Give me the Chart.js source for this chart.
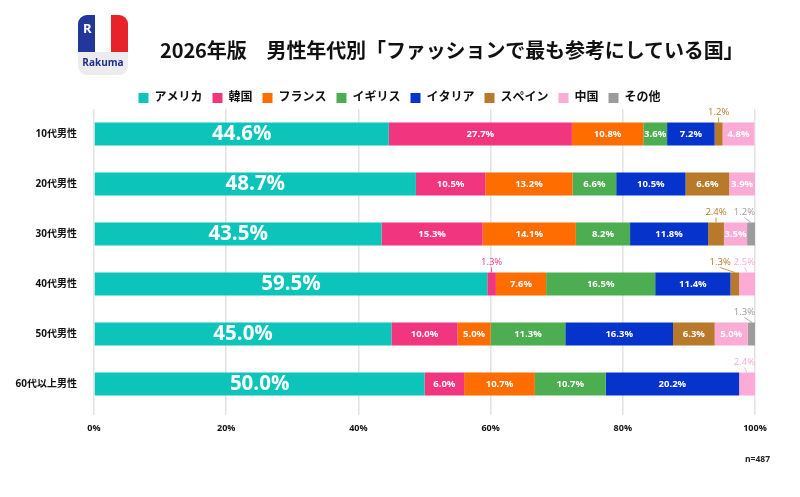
<!DOCTYPE html>
<html>
<head>
<meta charset="utf-8">
<script src="https://cdn.jsdelivr.net/npm/chart.js@4.4.1/dist/chart.umd.min.js"></script>
<style>
  body { margin: 0; background: #fff; font-family: 'Noto Sans CJK JP', sans-serif; }
  #page { position: relative; width: 800px; height: 497px; overflow: hidden; }
  #page canvas { position: absolute; left: 0; top: 0; }
  .logo { position: absolute; left: 78px; top: 15px; width: 50px; height: 60px; border-radius: 9px; overflow: hidden; background: #ececef; }
  .logo .flag { position: absolute; left: 0; top: 0; width: 50px; height: 37px; display: flex; }
  .logo .flag div { flex: 1; }
  .logo .r { position: absolute; left: 5px; top: 4px; color: #fff; font: bold 13px 'Open Sans', sans-serif; }
  .logo .name { position: absolute; left: 0; width: 50px; top: 40px; text-align: center; color: #1d2f8c; font: bold 10px 'Open Sans', sans-serif; }
  .title { position: absolute; left: 160px; top: 35px; font-size: 20px; font-weight: bold; color: #111; white-space: nowrap; letter-spacing: -0.1px; }
  .note { position: absolute; left: 745px; top: 453px; font: bold 8.5px 'Open Sans', sans-serif; color: #222; }
</style>
</head>
<body>
<div id="page">
  <canvas id="chart" width="800" height="497"></canvas>
  <div class="logo">
    <div class="flag"><div style="background:#23379a"></div><div style="background:#fff"></div><div style="background:#e8222b"></div></div>
    <div class="r">R</div>
    <div class="name">Rakuma</div>
  </div>
  <div class="title">2026年版　男性年代別「ファッションで最も参考にしている国」</div>
  <div class="note">n=487</div>
</div>
<script>
// 年代別の回答割合（%）
const ages = ['10代男性', '20代男性', '30代男性', '40代男性', '50代男性', '60代以上男性'];
const countries = ['アメリカ', '韓国', 'フランス', 'イギリス', 'イタリア', 'スペイン', '中国', 'その他'];
const colors = ['#0dc4bb', '#f2357f', '#ff6c00', '#4cae50', '#0533cc', '#b8792b', '#fbabd6', '#9c9c9c'];

const america = [44.6, 48.7, 43.5, 59.5, 45.0, 50.0];
const korea   = [27.7, 10.5, 15.3, 1.3, 10.0, 6.0];
const france  = [10.8, 13.2, 14.1, 7.6, 5.0, 10.7];
const uk      = [3.6, 6.6, 8.2, 16.5, 11.3, 10.7];
const italy   = [7.2, 10.5, 11.8, 11.4, 16.3, 20.2];
const spain   = [1.2, 6.6, 2.4, 1.3, 6.3, 0];
const china   = [4.8, 3.9, 3.5, 2.5, 5.0, 2.4];
const other   = [0, 0, 1.2, 0, 1.3, 0];

const xTicks = [0, 20, 40, 60, 80, 100];

const series = [america, korea, france, uk, italy, spain, china, other];
const FONT = "'Open Sans', 'Noto Sans CJK JP', sans-serif";

// 区間の中にラベル、3%未満は上に外出し
const segLabels = {
  id: 'segLabels',
  afterDatasetsDraw(chart) {
    const ctx = chart.ctx;
    ctx.save();
    ages.forEach((a, i) => {
      let limit = chart.chartArea.right;
      for (let d = series.length - 1; d >= 0; d--) {
        const v = series[d][i];
        if (!v) continue;
        const bar = chart.getDatasetMeta(d).data[i];
        const cx = (bar.x + bar.base) / 2;
        const txt = v.toFixed(1) + '%';
        ctx.textAlign = 'center';
        ctx.textBaseline = 'middle';
        if (v >= 3) {
          ctx.font = d === 0 ? 'bold 20.5px ' + FONT : 'bold 9.5px ' + FONT;
          ctx.fillStyle = '#fff';
          ctx.fillText(txt, cx, bar.y + 0.5);
        } else {
          ctx.font = '9.5px ' + FONT;
          const w = ctx.measureText(txt).width;
          const x = Math.min(cx, limit - w / 2);
          limit = x - w / 2 - 3;
          const top = bar.y - bar.height / 2;
          ctx.fillStyle = colors[d];
          ctx.fillText(txt, x, top - 10);
          ctx.strokeStyle = colors[d];
          ctx.lineWidth = 0.8;
          ctx.beginPath();
          ctx.moveTo(x, top - 5);
          ctx.lineTo(cx, top);
          ctx.stroke();
        }
      }
    });
    ctx.restore();
  }
};

// 凡例をページ中央に寄せる
const legendShift = {
  id: 'legendShift',
  afterLayout(chart) {
    const lg = chart.legend;
    lg.left += 22; lg.right += 22;
    lg.top += 5; lg.bottom += 5;
  }
};

new Chart(document.getElementById('chart'), {
  type: 'bar',
  data: {
    labels: ages,
    datasets: series.map((s, k) => ({
      label: countries[k],
      data: s,
      backgroundColor: colors[k],
      borderWidth: 0,
      categoryPercentage: 1,
      barPercentage: 0.46
    }))
  },
  options: {
    indexAxis: 'y',
    responsive: false,
    animation: false,
    layout: { padding: { top: 77, left: 0, right: 45, bottom: 58 } },
    plugins: {
      legend: {
        position: 'top',
        labels: { boxWidth: 10, boxHeight: 10, padding: 10, color: '#111', font: { family: FONT, size: 12, weight: 'bold' } }
      },
      tooltip: { enabled: false }
    },
    scales: {
      x: {
        stacked: true,
        min: 0,
        max: 100,
        afterBuildTicks: (s) => { s.ticks = xTicks.map(v => ({ value: v })); },
        afterFit: (s) => { s.height = 30; },
        grid: { color: '#e2e2e2', lineWidth: 1.5, tickLength: 6 },
        border: { display: false },
        ticks: { callback: v => v + '%', color: '#111', padding: 8, font: { family: FONT, size: 9, weight: 'bold' } }
      },
      y: {
        stacked: true,
        afterFit: (s) => { s.width = 94; },
        grid: { display: false },
        border: { display: false },
        ticks: { color: '#111', padding: 9, font: { family: FONT, size: 10, weight: 'bold' } }
      }
    }
  },
  plugins: [segLabels, legendShift]
});
</script>
</body>
</html>
